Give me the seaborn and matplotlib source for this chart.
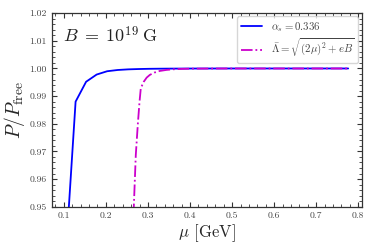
import matplotlib
matplotlib.use("Agg")
import matplotlib.pyplot as plt
import seaborn as sns
import pandas as pd
from matplotlib.ticker import AutoMinorLocator, MultipleLocator

mu_alpha = [0.103, 0.128, 0.153, 0.178, 0.203, 0.228, 0.253, 0.278, 0.303, 0.328,
            0.353, 0.403, 0.453, 0.503, 0.553, 0.603, 0.653, 0.703, 0.753, 0.776]
p_alpha = [0.9286, 0.9880, 0.9952, 0.9978, 0.9990, 0.99945, 0.99968, 0.99980, 0.99988, 0.99992,
           0.99995, 0.99998, 0.99999, 1.0, 1.0, 1.0, 1.0, 1.0, 1.0, 1.0]

mu_lam = [0.264, 0.2664, 0.2711, 0.276, 0.280, 0.283, 0.290, 0.297, 0.3044, 0.315,
          0.328, 0.344, 0.36, 0.38, 0.40, 0.45, 0.50, 0.55, 0.60, 0.65, 0.70, 0.75, 0.776]
p_lam = [0.940, 0.950, 0.9687, 0.980, 0.9880, 0.99285, 0.9952, 0.9967, 0.99767, 0.9985,
         0.9991, 0.99948, 0.99970, 0.99985, 0.99993, 0.99998, 1.0, 1.0, 1.0, 1.0, 1.0, 1.0, 1.0]

label_alpha = r'$\alpha_s = 0.336$'
label_lam = r'$\bar{\Lambda} = \sqrt{(2\mu)^2 + eB}$'

sns.set_style("ticks")
plt.rcParams['font.family'] = ['cmr10', 'DejaVu Serif']
plt.rcParams['mathtext.fontset'] = 'cm'
plt.rcParams['axes.formatter.use_mathtext'] = True

fig = plt.figure(figsize=(3.74, 2.49), dpi=100)
ax = fig.add_axes([0.138, 0.170, 0.829, 0.777])

df1 = pd.DataFrame({'mu': mu_alpha, 'p': p_alpha})
df2 = pd.DataFrame({'mu': mu_lam, 'p': p_lam})
sns.lineplot(data=df1, x='mu', y='p', ax=ax, color='#0000ff', lw=1.3, sort=False,
             label=label_alpha)
sns.lineplot(data=df2, x='mu', y='p', ax=ax, color='#cc00cc', lw=1.3, sort=False,
             linestyle='-.', label=label_lam)

ax.set_xlim(0.071, 0.808)
ax.set_ylim(0.95, 1.02)
ax.xaxis.set_major_locator(MultipleLocator(0.1))
ax.yaxis.set_major_locator(MultipleLocator(0.01))
ax.xaxis.set_minor_locator(AutoMinorLocator(5))
ax.yaxis.set_minor_locator(AutoMinorLocator(5))
ax.yaxis.set_major_formatter(matplotlib.ticker.FormatStrFormatter('%.2f'))
ax.xaxis.set_major_formatter(matplotlib.ticker.FormatStrFormatter('%.1f'))
ax.tick_params(which='both', direction='in', top=True, right=True, labelsize=7,
               labelcolor='#444444', color='#333333')
ax.tick_params(which='major', length=3.5, width=0.8)
ax.tick_params(which='minor', length=2, width=0.6)
for s in ax.spines.values():
    s.set_linewidth(0.9)
    s.set_color('#333333')

ax.set_xlabel(r'$\mu$ [GeV]', fontsize=12, labelpad=2)
ax.set_ylabel(r'$P/P_{\rm free}$', fontsize=14, labelpad=2)
ax.text(0.036, 0.888, r'$B\;=\;10^{19}\;\mathrm{G}$', transform=ax.transAxes,
        fontsize=13, va='center', color='#222222')

leg = ax.legend(loc='upper right', fontsize=7.8, handlelength=2.0, framealpha=0.8,
                borderaxespad=0.3, labelspacing=0.25, borderpad=0.35,
                labelcolor='#444444')

fig.savefig('out.png', dpi=100)
